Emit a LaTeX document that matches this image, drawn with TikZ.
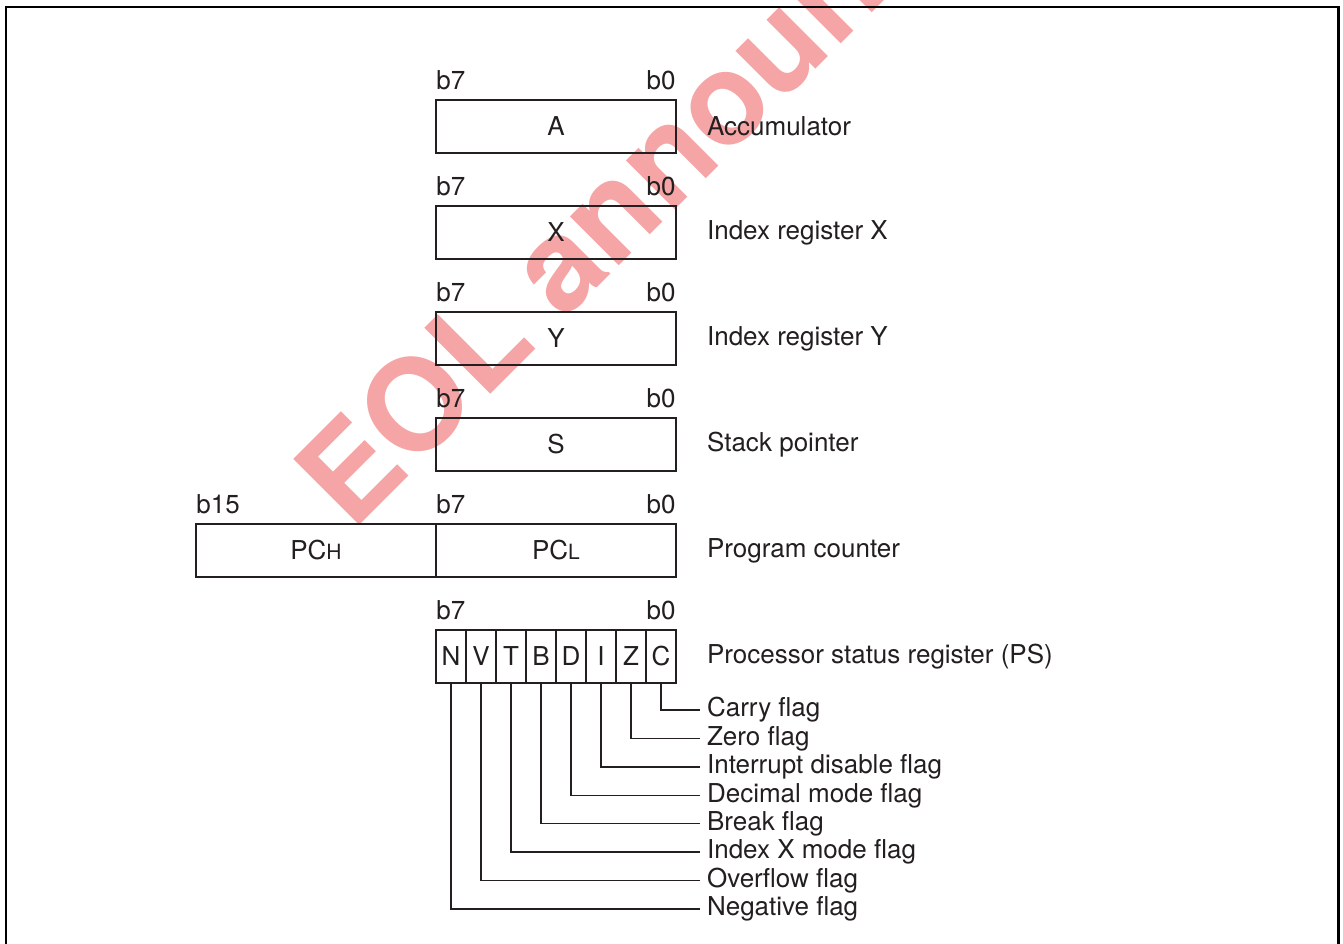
\documentclass[tikz,border=0pt]{standalone}
\usepackage{fontspec}
\setmainfont{TeX Gyre Heros}
\usetikzlibrary{positioning}

\definecolor{inkgray}{RGB}{35,31,32}
\definecolor{eolred}{RGB}{245,165,165}

\tikzset{
  regbox/.style={draw=inkgray, line width=0.7pt, minimum width=120pt,
    minimum height=26.5pt, inner sep=0pt, outer sep=0pt, text=inkgray},
  flagbox/.style={regbox, minimum width=15pt},
  bitno/.style={inner sep=0pt, text=inkgray},
  reglabel/.style={text=inkgray},
  flagline/.style={draw=inkgray, line width=0.7pt}
}

\begin{document}
\begin{tikzpicture}[x=0.5pt, y=-0.5pt, font=\fontsize{13}{15}\selectfont]
\useasboundingbox (0,0) rectangle (1343,943);

% watermark
\begin{scope}
  \clip (0,0) rectangle (1343,943);
  \node [anchor=base west, rotate=45, inner sep=0pt, text=eolred,
    font=\fontsize{64}{70}\selectfont\bfseries] (eol) at (352,533) {EOL announced};
\end{scope}

% frame
\draw [line width=1.4pt] (6,950) -- (6,7) -- (1338.5,7) -- (1338.5,950);

\foreach \rg [count=\i] in {A,X,Y,S}
  \node [regbox] (reg-\rg) at (556,20.5+\i*106) {\rg};

\node [regbox] (reg-PCL) at (556,550.5) {PC{\fontsize{10.5}{12}\selectfont L}};
\node [regbox, left=0pt of reg-PCL] (reg-PCH) {PC{\fontsize{10.5}{12}\selectfont H}};

\foreach \f [count=\i] in {N,V,T,B,D,I,Z,C}
  \node [flagbox] (ps-\f) at (421+\i*30,656.5) {\f};

\foreach \rg/\txt in {A/Accumulator, X/Index register X, Y/Index register Y,
    S/Stack pointer, PCL/Program counter}
  \node [reglabel, right=12pt of reg-\rg] (name-\rg) {\txt};
\node [reglabel, right=12pt of ps-C] (name-PS) {Processor status register (PS)};

\foreach \rg in {A,X,Y,S,PCL} {
  \node [bitno, above right=5pt and 0pt of reg-\rg.north west] (b7-\rg) {b7};
  \node [bitno, above left=5pt and 0pt of reg-\rg.north east] (b0-\rg) {b0};
}
\node [bitno, above right=5pt and 0pt of reg-PCH.north west] (b15-PCH) {b15};
\node [bitno, above right=5pt and 0pt of ps-N.north west] (b7-PS) {b7};
\node [bitno, above left=5pt and 0pt of ps-C.north east] (b0-PS) {b0};

\foreach \f/\txt [count=\i] in {C/Carry flag, Z/Zero flag, I/Interrupt disable flag,
    D/Decimal mode flag, B/Break flag, T/Index X mode flag, V/Overflow flag,
    N/Negative flag} {
  \coordinate (end-\f) at (700,681.6+\i*28.43);
  \node [reglabel, anchor=west] (flag-\f) at (end-\f) {\txt};
  \draw [flagline] (ps-\f.south) |- (flag-\f.west);
}

\end{tikzpicture}
\end{document}
